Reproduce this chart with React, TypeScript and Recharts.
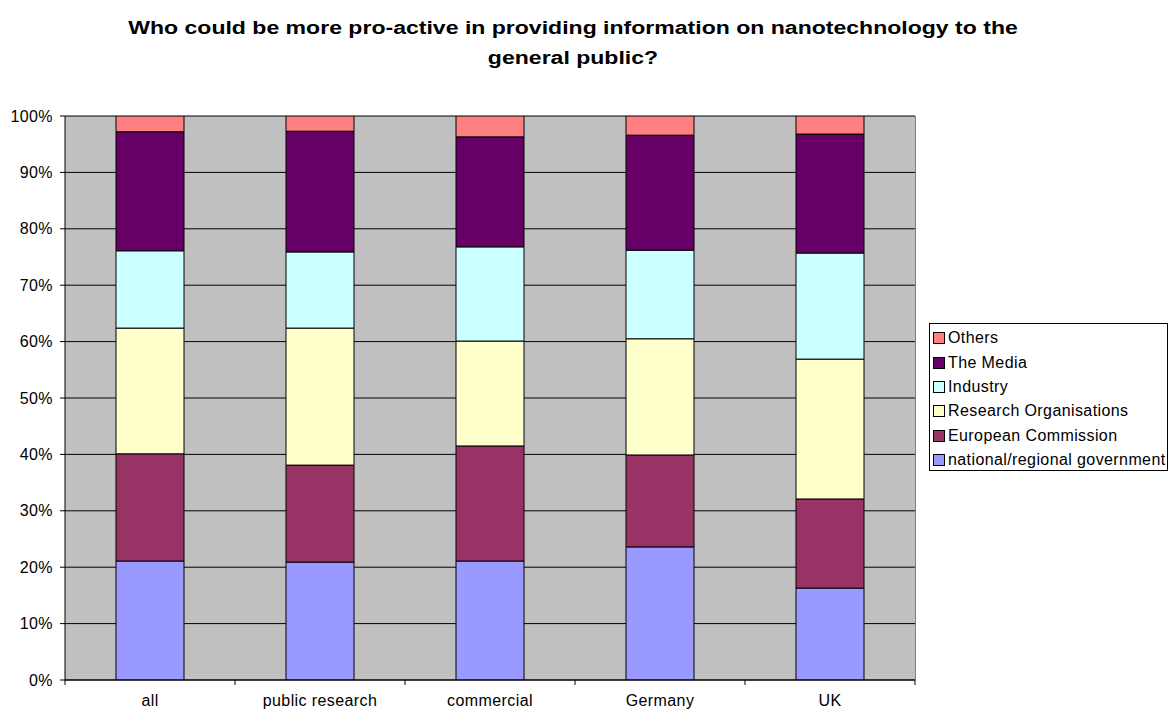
import React from 'react';
import {
  BarChart,
  Bar,
  XAxis,
  YAxis,
  CartesianGrid,
} from 'recharts';

const categories = ['all', 'public research', 'commercial', 'Germany', 'UK'];

// segment shares in %
const nationalGov = [21.1, 20.9, 21.1, 23.6, 16.3];
const europeanCommission = [19.0, 17.2, 20.4, 16.3, 15.8];
const researchOrgs = [22.3, 24.3, 18.6, 20.6, 24.8];
const industry = [13.7, 13.5, 16.7, 15.7, 18.8];
const theMedia = [21.1, 21.4, 19.5, 20.4, 21.1];
const others = [2.8, 2.7, 3.7, 3.4, 3.2];

const yTicks = [0, 10, 20, 30, 40, 50, 60, 70, 80, 90, 100];

const SERIES = [
  { key: 'national', name: 'national/regional government', color: '#9999FF', values: nationalGov },
  { key: 'ec', name: 'European Commission', color: '#993366', values: europeanCommission },
  { key: 'research', name: 'Research Organisations', color: '#FFFFCC', values: researchOrgs },
  { key: 'industry', name: 'Industry', color: '#CCFFFF', values: industry },
  { key: 'media', name: 'The Media', color: '#660066', values: theMedia },
  { key: 'others', name: 'Others', color: '#FF8080', values: others },
];

const data = categories.map((c) => {
  const row: Record<string, string | number> = { cat: c };
  SERIES.forEach((s, j) => {
    row[s.key] = SERIES[j].values[categories.indexOf(c)];
  });
  return row;
});

const FONT = 'Arial, "Liberation Sans", sans-serif';
const CHART_W = 1168;
const MARGIN_R = 253;
const Y_W = 65;
// half of one category band, for Excel-style tick marks between categories
const HALF_BAND = (CHART_W - MARGIN_R - Y_W) / categories.length / 2;

function CategoryTick(props: any) {
  const { x, y, payload, index } = props;
  return (
    <g>
      <line x1={x - HALF_BAND} x2={x - HALF_BAND} y1={y} y2={y + 5} stroke="#000" />
      {index === categories.length - 1 && (
        <line x1={x + HALF_BAND} x2={x + HALF_BAND} y1={y} y2={y + 5} stroke="#000" />
      )}
      <text
        x={x}
        y={y + 15}
        dy="0.71em"
        textAnchor="middle"
        fill="#000"
        fontSize={16}
        fontFamily={FONT}
        letterSpacing={0.4}
      >
        {payload.value}
      </text>
    </g>
  );
}

function LegendBox() {
  return (
    <div
      style={{
        position: 'absolute',
        left: 929,
        top: 323,
        width: 239,
        height: 148,
        border: '1px solid #000',
        background: '#fff',
        padding: '2px 0 0 3px',
        fontFamily: FONT,
        fontSize: 16,
        color: '#000',
        boxSizing: 'border-box',
      }}
    >
      {[...SERIES].reverse().map((s) => (
        <div key={s.key} style={{ display: 'flex', alignItems: 'center', height: 24.4, whiteSpace: 'nowrap' }}>
          <span
            style={{
              display: 'inline-block',
              width: 10,
              height: 10,
              background: s.color,
              border: '1px solid #000',
              marginRight: 3,
              flexShrink: 0,
            }}
          />
          <span style={{ letterSpacing: 0.4 }}>{s.name}</span>
        </div>
      ))}
    </div>
  );
}

export default function App() {
  return (
    <div style={{ position: 'absolute', left: 0, top: 0, width: 1168, height: 710, background: '#fff', overflow: 'hidden' }}>
      <div
        style={{
          position: 'absolute',
          left: 0,
          top: 13,
          width: 1146,
          textAlign: 'center',
          fontFamily: FONT,
          fontWeight: 'bold',
          fontSize: 18,
          lineHeight: '30px',
          color: '#000',
          transform: 'scaleX(1.28)',
          transformOrigin: '573px 0',
        }}
      >
        Who could be more pro-active in providing information on nanotechnology to the
        <br />
        general public?
      </div>
      <BarChart
        width={CHART_W}
        height={710}
        data={data}
        margin={{ top: 116, right: MARGIN_R, bottom: 0, left: 0 }}
        barCategoryGap={0}
        style={{ position: 'absolute', left: 0, top: 0 }}
      >
        <CartesianGrid fill="#C0C0C0" stroke="#000" vertical={false} />
        <XAxis
          dataKey="cat"
          height={30}
          axisLine={{ stroke: '#000' }}
          tickLine={false}
          tickSize={0}
          tickMargin={0}
          tick={<CategoryTick />}
          interval={0}
        />
        <YAxis
          width={Y_W}
          domain={[0, 100]}
          ticks={yTicks}
          tickFormatter={(v) => `${v}%`}
          axisLine={{ stroke: '#000' }}
          tickLine={{ stroke: '#000' }}
          tickSize={5}
          tickMargin={7}
          tick={{ fill: '#000', fontSize: 16, fontFamily: FONT, letterSpacing: 0.4 }}
          allowDataOverflow
        />
        {SERIES.map((s) => (
          <Bar
            key={s.key}
            dataKey={s.key}
            name={s.name}
            stackId="a"
            fill={s.color}
            stroke="#000"
            strokeWidth={1}
            barSize={68}
            isAnimationActive={false}
          />
        ))}
      </BarChart>
      <div
        style={{
          position: 'absolute',
          left: 915,
          top: 116,
          width: 1,
          height: 564,
          background: '#808080',
        }}
      />
      <LegendBox />
    </div>
  );
}
